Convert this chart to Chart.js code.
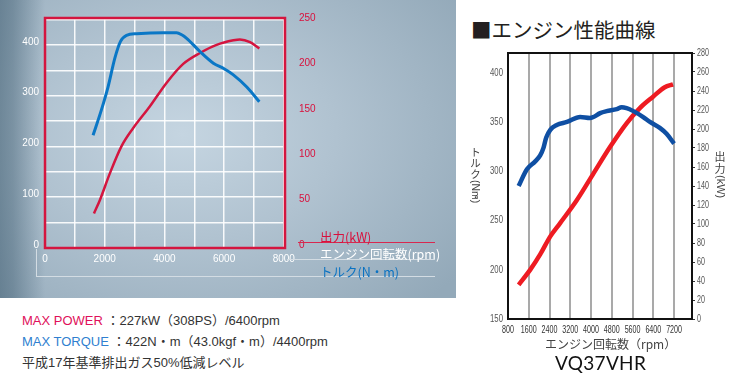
<!DOCTYPE html>
<html>
<head>
<meta charset="utf-8">
<script src="https://cdn.jsdelivr.net/npm/chart.js@4.4.1/dist/chart.umd.min.js"></script>
<style>
    body { margin: 0; background: #fff; width: 743px; height: 384px; position: relative; overflow: hidden;
           font-family: "Liberation Sans", "Noto Sans CJK JP", sans-serif; }
    .abs { position: absolute; }
    #leftPanel { left: 0; top: 0; width: 456px; height: 298px;
        background:
            linear-gradient(to right, rgba(60, 90, 110, 0.55) 0, rgba(60, 90, 110, 0.45) 13px, rgba(60, 90, 110, 0) 45px),
            radial-gradient(ellipse 75% 80% at 40% 45%, #c5d5e1 0%, #b0c2d0 45%, #93a9b9 100%); }
    .hline { position: absolute; height: 0; }
    .leg { position: absolute; font-size: 12.5px; white-space: nowrap; font-family: "Noto Sans CJK JP", sans-serif; }
    .spec { position: absolute; left: 22px; top: 310px; font-size: 13px; line-height: 21px; color: #333; white-space: nowrap; }
    .vcol { position: absolute; font-family: "Noto Sans CJK JP", sans-serif; color: #444; text-align: center; line-height: 1.05; }
    .vcol .lat { writing-mode: vertical-rl; margin: 1px auto 0; line-height: 1; font-family: "Liberation Sans", sans-serif; }
</style>
</head>
<body>
<div id="leftPanel" class="abs">
    <canvas id="leftChart" width="456" height="298" class="abs" style="left:0;top:0"></canvas>
    <!-- legend and axis bracket lines -->
    <div class="hline" style="left:298px; top:242px; width:137px; border-top:1.5px solid #d8284f"></div>
    <div class="hline" style="left:287px; top:259px; width:148px; border-top:1.5px solid #d3dce3"></div>
    <div class="abs" style="left:36px; top:249px; width:0; height:28px; border-left:1.5px solid #d3dce3"></div>
    <div class="hline" style="left:36px; top:276px; width:399px; border-top:1.5px solid #d3dce3"></div>
    <div class="leg" style="left:320px; top:227px; color:#d8103c">出力(kW)</div>
    <div class="leg" style="left:320px; top:244px; color:#ffffff">エンジン回転数(rpm)</div>
    <div class="leg" style="left:320px; top:262px; color:#0a72c2">トルク(N・m)</div>
</div>

<div class="spec">
    <div><span style="color:#e0105a">MAX POWER</span> ：227kW（308PS）/6400rpm</div>
    <div><span style="color:#2f7fd0">MAX TORQUE</span> ：422N・m（43.0kgf・m）/4400rpm</div>
    <div>平成17年基準排出ガス50%低減レベル</div>
</div>

<div class="abs" style="left:471px; top:14px; font-size:20.5px; color:#231f20; font-family:'Noto Sans CJK JP', sans-serif; white-space:nowrap">■エンジン性能曲線</div>
<canvas id="rightChart" width="283" height="300" class="abs" style="left:460px;top:40px"></canvas>
<div class="vcol" style="left:469px; top:146px; width:13px; font-size:10.5px">
    <div>ト</div><div>ル</div><div>ク</div><div class="lat">(N・m)</div>
</div>
<div class="vcol" style="left:713px; top:151px; width:14px; font-size:11px">
    <div>出</div><div>力</div><div class="lat">(kW)</div>
</div>
<div class="abs" style="left:545px; top:335px; font-size:12px; color:#444; font-family:'Noto Sans CJK JP', sans-serif; white-space:nowrap">エンジン回転数（rpm）</div>
<div class="abs" style="left:555px; top:351px; font-size:19px; color:#111; font-family:Lato, sans-serif; letter-spacing:0.3px">VQ37VHR</div>

<script>
// Left chart (old brochure style)
const leftRpmTicks = [0, 1000, 2000, 3000, 4000, 5000, 6000, 7000, 8000];
const leftTorqueTicks = [0, 50, 100, 150, 200, 250, 300, 350, 400, 450];
const leftPowerTicks = [0, 50, 100, 150, 200, 250];
const leftTorqueRpm = [1610, 1890, 2115, 2340, 2530, 2730, 3070, 3960, 4410, 4580, 4745, 5190, 5640, 6000, 6310, 6760, 7180];
const leftTorque = [222, 272, 318, 374, 407, 419, 422, 424, 424, 420, 413, 387, 364, 353, 341, 317, 288];
const leftPowerRpm = [1640, 1840, 2170, 2560, 2950, 3510, 4070, 4630, 5190, 5750, 6310, 6530, 6870, 7180];
const leftPower = [38, 53, 82, 112, 132, 156, 182, 203, 215, 224, 229, 230, 227, 220];

// Right chart (VQ37VHR)
const rightRpmTicks = [800, 1600, 2400, 3200, 4000, 4800, 5600, 6400, 7200];
const rightTorqueTicks = [150, 200, 250, 300, 350, 400];
const rightPowerTicks = [0, 20, 40, 60, 80, 100, 120, 140, 160, 180, 200, 220, 240, 260, 280];
const rightTorqueRpm = [1210, 1530, 1850, 2040, 2170, 2270, 2430, 2680, 3070, 3580, 3960, 4090, 4350, 4600, 4990, 5180, 5370, 5630, 6010, 6270, 6650, 6910, 7200];
const rightTorque = [285, 302, 310, 316, 324, 334, 342, 347, 350, 355, 354, 355, 359, 361, 363, 365, 364, 361, 355, 350, 344, 338, 328];
const rightPowerRpm = [1210, 1660, 2040, 2430, 2810, 3450, 4090, 4730, 5370, 5880, 6390, 6840, 7160];
const rightPower = [36, 52, 68, 87, 101, 125, 153, 181, 206, 222, 234, 244, 247];

function points(xs, ys) {
    return xs.map((x, i) => ({ x: x, y: ys[i] }));
}

function setTicks(list) {
    return s => { s.ticks = list.map(v => ({ value: v })); };
}

// draw a frame around the plot area
function frame(color, width) {
    return {
        id: 'frame',
        beforeDatasetsDraw(chart) {
            const a = chart.chartArea;
            const ctx = chart.ctx;
            ctx.save();
            ctx.strokeStyle = color;
            ctx.lineWidth = width;
            ctx.strokeRect(a.left, a.top, a.right - a.left, a.bottom - a.top);
            ctx.restore();
        }
    };
}

new Chart(document.getElementById('leftChart'), {
    type: 'line',
    data: {
        datasets: [
            {
                data: points(leftTorqueRpm, leftTorque),
                yAxisID: 'y',
                borderColor: '#0a77c6',
                borderWidth: 3,
                pointRadius: 0,
                cubicInterpolationMode: 'monotone'
            },
            {
                data: points(leftPowerRpm, leftPower),
                yAxisID: 'y1',
                borderColor: '#d4153f',
                borderWidth: 2.5,
                pointRadius: 0,
                cubicInterpolationMode: 'monotone'
            }
        ]
    },
    options: {
        responsive: false,
        animation: false,
        layout: { padding: { top: 18 } },
        plugins: { legend: { display: false }, tooltip: { enabled: false } },
        scales: {
            x: {
                type: 'linear',
                min: 0,
                max: 8040,
                afterBuildTicks: setTicks(leftRpmTicks),
                afterFit: s => { s.height = 50; },
                grid: { color: 'rgba(255,255,255,0.9)', lineWidth: 1.5, drawTicks: false },
                border: { display: false },
                ticks: {
                    padding: 5,
                    maxRotation: 0,
                    autoSkip: false,
                    color: '#ffffff',
                    font: { size: 10, family: 'Liberation Sans' },
                    callback: v => (v % 2000 === 0 ? v : '')
                }
            },
            y: {
                position: 'left',
                min: 0,
                max: 453,
                afterBuildTicks: setTicks(leftTorqueTicks),
                afterFit: s => { s.width = 45; },
                grid: { color: 'rgba(255,255,255,0.9)', lineWidth: 1.5, drawTicks: false },
                border: { display: false },
                ticks: {
                    padding: 6,
                    labelOffset: -3,
                    autoSkip: false,
                    color: '#ffffff',
                    font: { size: 10, family: 'Liberation Sans' },
                    callback: v => (v % 100 === 0 && v <= 400 ? v : '')
                }
            },
            y1: {
                position: 'right',
                min: 0,
                max: 253.6,
                afterBuildTicks: setTicks(leftPowerTicks),
                afterFit: s => { s.width = 171; },
                grid: { display: false },
                border: { display: false },
                ticks: {
                    padding: 6,
                    labelOffset: -3,
                    autoSkip: false,
                    color: '#d8103c',
                    font: { size: 10, family: 'Liberation Sans' }
                }
            }
        }
    },
    plugins: [frame('#d4153f', 2.5)]
});

// narrow tick labels like the condensed brochure font
function narrowText(ctx, text, x, y, align, sx) {
    ctx.save();
    ctx.translate(x, y);
    ctx.scale(sx, 1);
    ctx.textAlign = align;
    ctx.fillText(String(text), 0, 0);
    ctx.restore();
}

const narrowLabels = {
    id: 'narrowLabels',
    afterDraw(chart) {
        const ctx = chart.ctx;
        const a = chart.chartArea;
        const sc = chart.scales;
        ctx.save();
        ctx.font = '10.5px "Liberation Sans", sans-serif';
        ctx.textBaseline = 'middle';
        ctx.fillStyle = '#333';
        rightRpmTicks.forEach(v => narrowText(ctx, v, sc.x.getPixelForValue(v), a.bottom + 11, 'center', 0.68));
        ctx.fillStyle = '#555';
        rightTorqueTicks.forEach(v => narrowText(ctx, v, a.left - 5, sc.y.getPixelForValue(v), 'right', 0.74));
        rightPowerTicks.forEach(v => narrowText(ctx, v, a.right + 5, sc.y1.getPixelForValue(v), 'left', 0.68));
        ctx.restore();
    }
};

new Chart(document.getElementById('rightChart'), {
    type: 'line',
    data: {
        datasets: [
            {
                data: points(rightTorqueRpm, rightTorque),
                yAxisID: 'y',
                borderColor: '#0f4fa3',
                borderWidth: 4.5,
                pointRadius: 0,
                cubicInterpolationMode: 'monotone'
            },
            {
                data: points(rightPowerRpm, rightPower),
                yAxisID: 'y1',
                borderColor: '#ee1b22',
                borderWidth: 4.5,
                pointRadius: 0,
                cubicInterpolationMode: 'monotone'
            }
        ]
    },
    options: {
        responsive: false,
        animation: false,
        layout: { padding: { top: 13 } },
        plugins: { legend: { display: false }, tooltip: { enabled: false } },
        scales: {
            x: {
                type: 'linear',
                min: 800,
                max: 7890,
                afterBuildTicks: setTicks(rightRpmTicks),
                afterFit: s => { s.height = 21; },
                grid: { color: '#a9a9a9', lineWidth: 2, drawTicks: false },
                border: { display: false },
                ticks: { display: false }
            },
            y: {
                position: 'left',
                min: 150,
                max: 420,
                afterBuildTicks: setTicks(rightTorqueTicks),
                afterFit: s => { s.width = 48; },
                grid: { display: false },
                border: { display: false },
                ticks: { display: false }
            },
            y1: {
                position: 'right',
                min: 0,
                max: 280,
                afterBuildTicks: setTicks(rightPowerTicks),
                afterFit: s => { s.width = 51; },
                grid: { drawOnChartArea: false, drawTicks: true, tickLength: 3, color: '#333' },
                border: { display: false },
                ticks: { display: false }
            }
        }
    },
    plugins: [frame('#111', 2), narrowLabels]
});
</script>
</body>
</html>
